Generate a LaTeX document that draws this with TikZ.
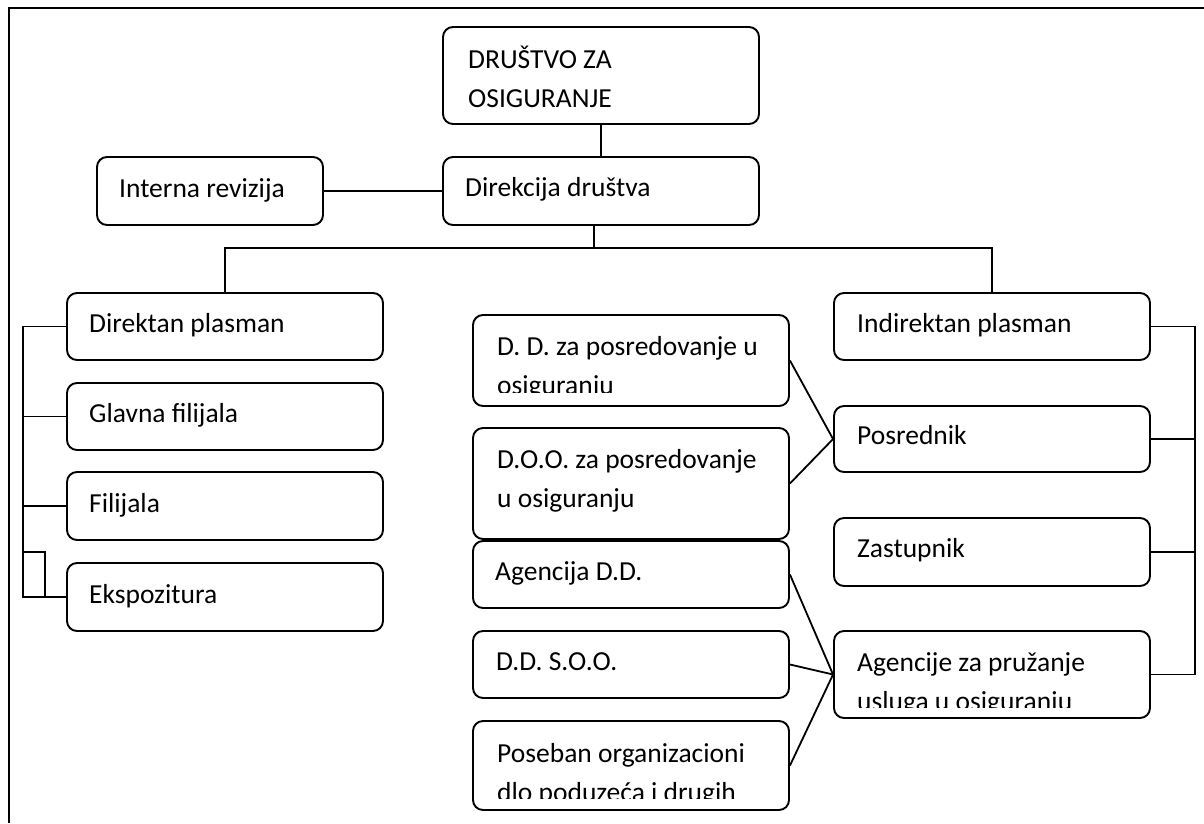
\documentclass[tikz,border=0pt]{standalone}
\usepackage{fontspec}
\setmainfont{Carlito}
\begin{document}
\begin{tikzpicture}[x=1pt,y=-1pt,
  box/.style={draw, line width=1.9pt, rounded corners=10pt, inner sep=0pt},
  obox/.style 2 args={box, minimum width=#1pt, minimum height=#2pt},
  lbl/.style={anchor=base west, inner sep=0pt, font=\fontsize{27.5}{39}\selectfont},
  wire/.style={line width=1.8pt}]
\useasboundingbox (0,0) rectangle (1204,823);

% page frame (open to the right and bottom)
\draw[line width=1.9pt] (9,823) -- (9,8) -- (1204,8);

% --- boxes ---
\node[obox={316}{97}] (top)  at (601,75.5)  {};
\node[obox={316}{68}] (dir)  at (601,191)   {};
\node[obox={226}{68}] (int)  at (210,191)   {};

\node[obox={316}{67}] (dp)   at (225,326.5) {};
\node[obox={316}{67}] (gf)   at (225,416.5) {};
\node[obox={316}{68}] (fil)  at (225,506)   {};
\node[obox={316}{68}] (eks)  at (225,597)   {};

\node[obox={316}{91}]  (dd)   at (631,360.5) {};
\node[obox={316}{111}] (doo)  at (631,483.5) {};
\node[obox={316}{67}]  (agdd) at (631,574.5) {};
\node[obox={316}{67}]  (dds)  at (631,664.5) {};
\node[obox={316}{89}]  (pos)  at (631,765.5) {};

\node[obox={316}{67}] (ind)  at (992,326.5) {};
\node[obox={316}{66}] (psr)  at (992,439)   {};
\node[obox={316}{68}] (zas)  at (992,552)   {};
\node[obox={316}{87}] (age)  at (992,674.5) {};

% --- labels ---
\node[lbl] (ttop1) at (468,68)  {DRUŠTVO ZA};
\node[lbl] (ttop2) at (468,107) {OSIGURANJE};
\node[lbl] (tdir)  at (465,196) {Direkcija društva};
\node[lbl] (tint)  at (119,197) {Interna revizija};

\node[lbl] (tdp)   at (89,332)  {Direktan plasman};
\node[lbl] (tgf)   at (89,422)  {Glavna filijala};
\node[lbl] (tfil)  at (89,512)  {Filijala};
\node[lbl] (teks)  at (89,603)  {Ekspozitura};

\begin{scope}
  \clip (474,316) rectangle (788,392);
  \node[lbl] (tdd1) at (497,355) {D. D. za posredovanje u};
  \node[lbl] (tdd2) at (497,394) {osiguranju};
\end{scope}
\node[lbl] (tdoo1) at (497,468) {D.O.O. za posredovanje};
\node[lbl] (tdoo2) at (497,507) {u osiguranju};
\node[lbl] (tagdd) at (495,580) {Agencija D.D.};
\node[lbl] (tdds)  at (496,670) {D.D. S.O.O.};
\begin{scope}
  \clip (474,722) rectangle (788,798);
  \node[lbl] (tpos1) at (497,762) {Poseban organizacioni};
  \node[lbl] (tpos2) at (497,801) {dlo poduzeća i drugih};
\end{scope}

\node[lbl] (tind) at (857,332) {Indirektan plasman};
\node[lbl] (tpsr) at (857,444) {Posrednik};
\node[lbl] (tzas) at (857,557) {Zastupnik};
\begin{scope}
  \clip (835,632) rectangle (1149,707);
  \node[lbl] (tage1) at (857,671) {Agencije za pružanje};
  \node[lbl] (tage2) at (857,710) {usluga u osiguranju};
\end{scope}

% --- connectors ---
\draw[wire] (top) -- (dir);
\draw[wire] (int) -- (dir);
\coordinate (split) at (594,248);
\draw[wire] ([xshift=-7pt]dir.south) -- (split);
\draw[wire] (dp.north) |- (split) -| (ind.north);

% left bus
\coordinate (lb) at (23,0);
\draw[wire] (dp.west) -- (dp.west -| lb) -- (eks.west -| lb) -- (eks.west);
\draw[wire] (gf.west) -- (gf.west -| lb);
\draw[wire] (fil.west) -- (fil.west -| lb);
\coordinate (lk) at (45,552);
\draw[wire] (lk -| lb) -- (lk) -- (lk |- eks.west);

% right bus
\coordinate (rb) at (1195,0);
\draw[wire] (ind.east) -- (ind.east -| rb) -- (age.east -| rb) -- (age.east);
\draw[wire] (psr.east) -- (psr.east -| rb);
\draw[wire] (zas.east) -- (zas.east -| rb);

% middle links
\draw[wire] (dd.east) -- (psr.west);
\draw[wire] (doo.east) -- (psr.west);
\draw[wire] (agdd.east) -- (age.west);
\draw[wire] (dds.east) -- (age.west);
\draw[wire] (pos.east) -- (age.west);
\end{tikzpicture}
\end{document}
